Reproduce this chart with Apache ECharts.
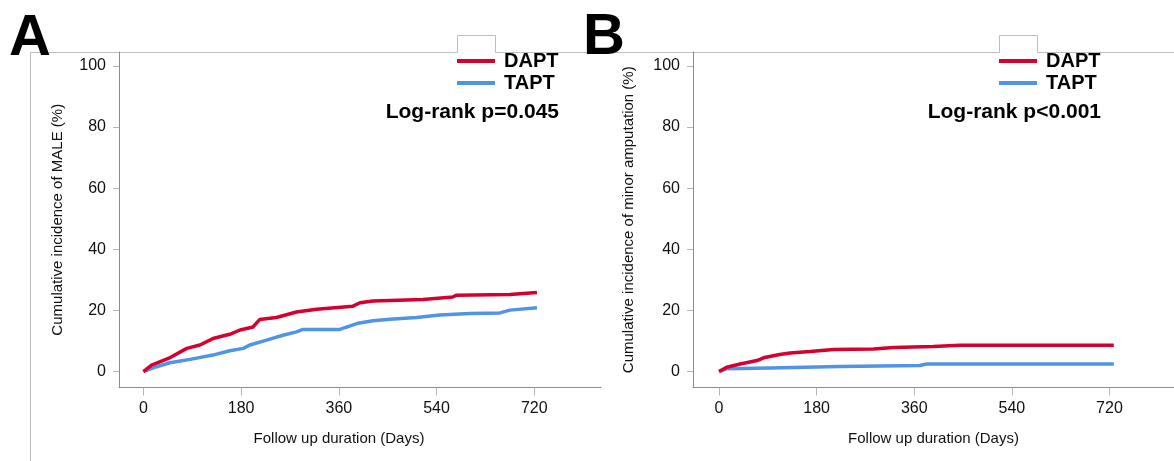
<!DOCTYPE html>
<html>
<head>
<meta charset="utf-8">
<script src="https://cdn.jsdelivr.net/npm/echarts@6/dist/echarts.min.js"></script>
<style>
  html, body { margin: 0; padding: 0; background: #fff; }
  #main { width: 1174px; height: 461px; }
</style>
</head>
<body>
<div id="main"></div>
<script>
const dom = document.getElementById('main');

// panel A - MALE
const daysA_DAPT = [0, 3, 15, 46, 80, 104, 128, 159, 178, 202, 214, 245, 282, 319, 386, 399, 423, 515, 570, 577, 675, 725];
const valsA_DAPT = [0, 0, 2.1, 4.3, 7.6, 8.7, 10.8, 12.2, 13.6, 14.6, 17.0, 17.7, 19.5, 20.4, 21.4, 22.5, 23.1, 23.6, 24.4, 25.0, 25.2, 25.9];
const daysA_TAPT = [0, 3, 24, 49, 86, 128, 159, 184, 196, 227, 257, 282, 294, 362, 393, 423, 454, 503, 546, 601, 657, 675, 725];
const valsA_TAPT = [0, 0, 1.6, 2.9, 4.0, 5.4, 6.8, 7.6, 8.7, 10.3, 11.9, 13.0, 13.8, 13.8, 15.7, 16.6, 17.1, 17.7, 18.5, 19.0, 19.2, 20.1, 20.9];

// panel B - minor amputation
const daysB_DAPT = [0, 14, 39, 70, 82, 112, 131, 168, 211, 285, 322, 395, 444, 728];
const valsB_DAPT = [0, 1.4, 2.5, 3.6, 4.5, 5.6, 6.1, 6.6, 7.2, 7.4, 7.9, 8.2, 8.6, 8.6];
const daysB_TAPT = [0, 14, 94, 223, 370, 383, 728];
const valsB_TAPT = [0, 0.9, 1.2, 1.7, 2.0, 2.5, 2.5];

const xTicks = [0, 180, 360, 540, 720];
const yTicks = [0, 20, 40, 60, 80, 100];
const groups = ['DAPT', 'TAPT'];
const pValues = ['Log-rank p=0.045', 'Log-rank p<0.001'];
const yNames = ['Cumulative incidence of MALE (%)', 'Cumulative incidence of minor amputation (%)'];
const xName = 'Follow up duration (Days)';

const RED = '#d6002e';
const BLUE = '#5194e4';
const FONT = 'Liberation Sans, Arial, sans-serif';

function zip(xs, ys) {
  return xs.map((x, i) => [x, ys[i]]);
}

function makeX(idx, min, max, namePad) {
  return {
    type: 'value',
    gridIndex: idx,
    min: min,
    max: max,
    splitLine: { show: false },
    axisLine: { show: true, onZero: false, lineStyle: { color: '#8c8c8c', width: 1 } },
    axisTick: { show: true, length: 8, customValues: xTicks, lineStyle: { color: '#b5b5b5' } },
    axisLabel: { customValues: xTicks, fontSize: 16, color: '#111', margin: 13, fontFamily: FONT },
    name: xName,
    nameLocation: 'middle',
    nameGap: 44,
    nameTextStyle: { fontSize: 15, color: '#111', fontFamily: FONT, padding: namePad },
  };
}

function makeY(idx, gap) {
  return {
    type: 'value',
    gridIndex: idx,
    min: -5.2,
    max: 104.5,
    splitLine: { show: false },
    axisLine: { show: true, onZero: false, lineStyle: { color: '#8c8c8c', width: 1 } },
    axisTick: { show: true, length: 6, customValues: yTicks, lineStyle: { color: '#b5b5b5' } },
    axisLabel: { customValues: yTicks, fontSize: 16, color: '#111', margin: 13, fontFamily: FONT },
    name: yNames[idx],
    nameLocation: 'middle',
    nameGap: gap,
    nameRotate: 90,
    nameTextStyle: { fontSize: 15, color: '#111', fontFamily: FONT },
  };
}

function makeSeries(name, idx, data, color) {
  return {
    name: name,
    type: 'line',
    xAxisIndex: idx,
    yAxisIndex: idx,
    showSymbol: false,
    data: data,
    color: color,
    lineStyle: { color: color, width: 3.5 },
    silent: true,
    animation: false,
  };
}

function makeLegend(left) {
  return {
    data: groups,
    orient: 'vertical',
    left: left,
    top: 51,
    padding: 0,
    icon: 'rect',
    itemWidth: 38,
    itemHeight: 4,
    itemGap: 2,
    textStyle: { fontSize: 20, fontWeight: 'bold', color: '#000', fontFamily: FONT, lineHeight: 20, padding: [0, 0, 0, 4] },
  };
}

function getChartOptions() {
  return {
    animation: false,
    grid: [
      { left: 119, top: 52, width: 482, height: 335.5 },
      { left: 693, top: 52, width: 481, height: 335.5 },
    ],
    xAxis: [makeX(0, -45, 843, [0, 42, 0, 0]), makeX(1, -48, 839, 0)],
    yAxis: [makeY(0, 54), makeY(1, 57)],
    legend: [makeLegend(457), makeLegend(999)],
    series: [
      makeSeries('TAPT', 0, zip(daysA_TAPT, valsA_TAPT), BLUE),
      makeSeries('DAPT', 0, zip(daysA_DAPT, valsA_DAPT), RED),
      makeSeries('TAPT', 1, zip(daysB_TAPT, valsB_TAPT), BLUE),
      makeSeries('DAPT', 1, zip(daysB_DAPT, valsB_DAPT), RED),
    ],
    graphic: [
      {
        type: 'polyline',
        silent: true,
        shape: {
          points: [[30.5, 461], [30.5, 52.5], [457.5, 52.5], [457.5, 35.5], [495.5, 35.5], [495.5, 52.5],
            [999.5, 52.5], [999.5, 35.5], [1037.5, 35.5], [1037.5, 52.5], [1174, 52.5]],
        },
        style: { stroke: '#bdbdbd', lineWidth: 1, fill: null },
        z: 0,
      },
      {
        type: 'text', left: 9, top: 10, z: 10,
        style: { text: 'A', fontSize: 58, fontWeight: 'bold', fill: '#000', fontFamily: FONT },
      },
      {
        type: 'text', left: 583, top: 9, z: 10,
        style: { text: 'B', fontSize: 58, fontWeight: 'bold', fill: '#000', fontFamily: FONT },
      },
      {
        type: 'text', x: 559, y: 112, z: 10,
        style: { text: pValues[0], fontSize: 21, fontWeight: 'bold', fill: '#000', fontFamily: FONT, align: 'right', verticalAlign: 'middle' },
      },
      {
        type: 'text', x: 1101, y: 112, z: 10,
        style: { text: pValues[1], fontSize: 21, fontWeight: 'bold', fill: '#000', fontFamily: FONT, align: 'right', verticalAlign: 'middle' },
      },
    ],
  };
}

const myChart = echarts.init(dom, null, { renderer: 'canvas' });
myChart.setOption(getChartOptions());
</script>
</body>
</html>
